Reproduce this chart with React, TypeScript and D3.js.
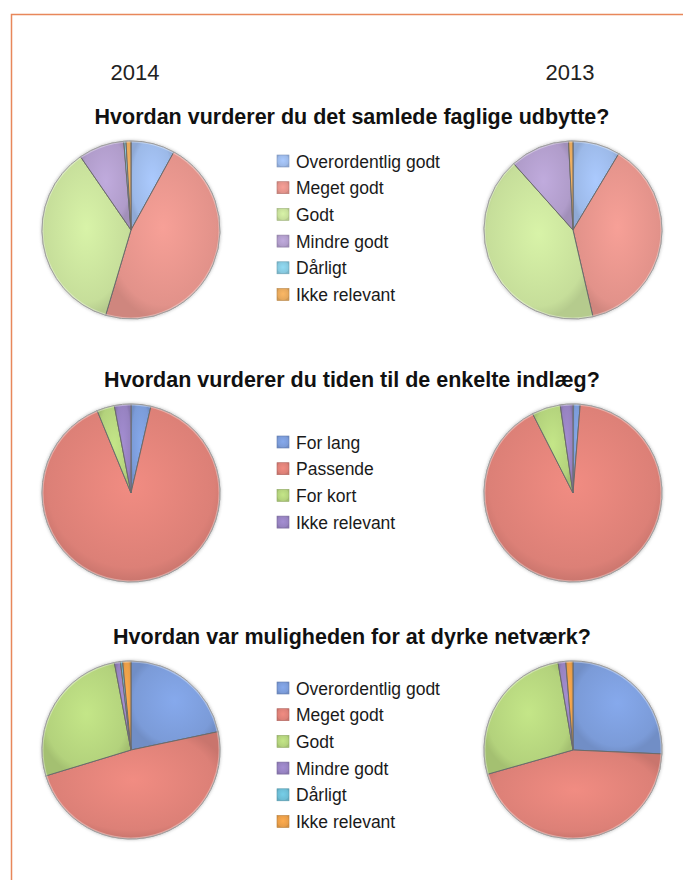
import React from 'react';
import * as d3 from 'd3';

const years = ['2014', '2013'];

const titles = [
  'Hvordan vurderer du det samlede faglige udbytte?',
  'Hvordan vurderer du tiden til de enkelte indlæg?',
  'Hvordan var muligheden for at dyrke netværk?',
];

const categoriesQ1 = ['Overordentlig godt', 'Meget godt', 'Godt', 'Mindre godt', 'Dårligt', 'Ikke relevant'];
const categoriesQ2 = ['For lang', 'Passende', 'For kort', 'Ikke relevant'];
const categoriesQ3 = ['Overordentlig godt', 'Meget godt', 'Godt', 'Mindre godt', 'Dårligt', 'Ikke relevant'];

// percentages, [2014, 2013]
const valuesQ1_2014 = [8.0, 46.6, 35.8, 8.3, 0.4, 0.9];
const valuesQ1_2013 = [8.6, 37.8, 42.0, 10.8, 0, 0.8];
const valuesQ2_2014 = [3.6, 90.2, 3.2, 3.0];
const valuesQ2_2013 = [1.3, 91.2, 5.2, 2.3];
const valuesQ3_2014 = [21.7, 48.6, 26.7, 1.1, 0.4, 1.5];
const valuesQ3_2013 = [25.7, 44.9, 26.7, 1.4, 0, 1.3];

const paletteLight = ['#9cb9e8', '#e2928a', '#c6de9a', '#b09cca', '#86c8de', '#e6a85c'];
const paletteFull = ['#7b9bd8', '#dc8077', '#b3d27c', '#9682c0', '#6cbcd4', '#e89d48'];

const charts = [
  { title: titles[0], categories: categoriesQ1, values: [valuesQ1_2014, valuesQ1_2013], palette: paletteLight, cy: 230, legendY: 161 },
  { title: titles[1], categories: categoriesQ2, values: [valuesQ2_2014, valuesQ2_2013], palette: paletteFull, cy: 493, legendY: 442 },
  { title: titles[2], categories: categoriesQ3, values: [valuesQ3_2014, valuesQ3_2013], palette: paletteFull, cy: 750, legendY: 688 },
];

const width = 683;
const height = 880;
const radius = 89;
const pieX = [131, 573];
const font = '"Liberation Sans", Arial, Helvetica, sans-serif';

const pie = d3.pie<number>().value(d => d).sort(null);
const arc = d3.arc<d3.PieArcDatum<number>>().innerRadius(0).outerRadius(radius);

export default function App() {
  return (
    <svg width={width} height={height} style={{ position: 'absolute', left: 0, top: 0 }}>
      <defs>
        {charts.map((c, ci) =>
          c.palette.map((col, i) => (
            <radialGradient key={`g${ci}-${i}`} id={`g${ci}-${i}`} cx="50%" cy="45%" r="55%">
              <stop offset="0%" stopColor={d3.color(col)!.brighter(0.25).formatHex()} />
              <stop offset="85%" stopColor={col} />
              <stop offset="100%" stopColor={d3.color(col)!.darker(0.25).formatHex()} />
            </radialGradient>
          ))
        )}
        <filter id="soft" x="-10%" y="-10%" width="120%" height="120%">
          <feGaussianBlur stdDeviation="1.5" />
        </filter>
      </defs>
      <rect x={0} y={0} width={width} height={height} fill="#fff" />
      {/* orange frame, open to the right and bottom */}
      <path d={`M11.5,${height} L11.5,14.5 L${width},14.5`} fill="none" stroke="#e8875a" strokeWidth={1.5} />

      {years.map((y, i) => (
        <text key={y} x={pieX[i] + (i === 0 ? 4 : -3)} y={80} textAnchor="middle" fontFamily={font} fontSize={22} fill="#222">
          {y}
        </text>
      ))}

      {charts.map((c, ci) => (
        <g key={ci}>
          <text x={352} y={c.cy - 106} textAnchor="middle" fontFamily={font} fontSize={21.5} fontWeight="bold" fill="#111">
            {c.title}
          </text>
          {c.values.map((vals, pi) => {
            const arcs = pie(vals);
            return (
              <g key={pi} transform={`translate(${pieX[pi]},${c.cy})`}>
                <circle r={radius + 1} fill="#999" opacity={0.5} filter="url(#soft)" />
                {arcs.map((a, i) =>
                  a.value > 0 ? (
                    <path key={i} d={arc(a) || ''} fill={`url(#g${ci}-${i})`} stroke="#6b6b6b" strokeWidth={1} strokeLinejoin="round" />
                  ) : null
                )}
                <circle r={radius - 0.5} fill="none" stroke="#fff" strokeOpacity={0.35} strokeWidth={2} />
              </g>
            );
          })}
          <g transform={`translate(277,${c.legendY})`}>
            {c.categories.map((cat, i) => (
              <g key={cat} transform={`translate(0,${i * 26.7})`}>
                <rect x={0} y={-6} width={12} height={12} fill={`url(#g${ci}-${i})`} stroke={d3.color(c.palette[i])!.darker(0.6).formatHex()} strokeWidth={0.6} />
                <text x={19} y={6.5} fontFamily={font} fontSize={17.5} fill="#1a1a1a">
                  {cat}
                </text>
              </g>
            ))}
          </g>
        </g>
      ))}
    </svg>
  );
}
